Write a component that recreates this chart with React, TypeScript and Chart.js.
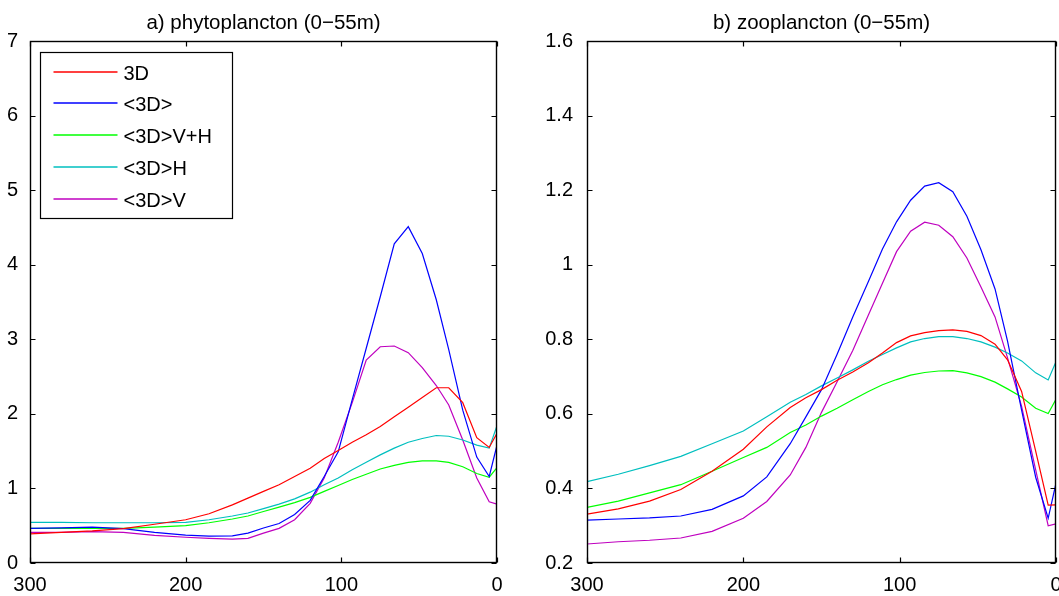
import React, { useEffect, useRef } from "react";
import { Chart, registerables } from "chart.js";

Chart.register(...registerables);

// ---------- data ----------
const DEPTH = [300, 280, 260, 240, 220, 200, 185, 170, 160, 150, 140, 130, 120, 111, 102, 93, 84, 75, 66, 57, 48, 39, 31, 22, 13, 5, 0];

const SERIES_LABELS = ["3D", "<3D>", "<3D>V+H", "<3D>H", "<3D>V"];
const SERIES_COLORS = ["#ff0000", "#0000ff", "#00ff00", "#00bfbf", "#bf00bf"];

// a) phytoplancton
const PHYTO_3D = [0.39, 0.41, 0.43, 0.46, 0.52, 0.58, 0.66, 0.78, 0.87, 0.96, 1.05, 1.16, 1.27, 1.40, 1.51, 1.62, 1.72, 1.83, 1.96, 2.09, 2.22, 2.35, 2.35, 2.15, 1.68, 1.55, 1.74];
const PHYTO_MEAN = [0.465, 0.47, 0.48, 0.46, 0.41, 0.375, 0.36, 0.365, 0.40, 0.47, 0.53, 0.65, 0.84, 1.16, 1.49, 2.19, 2.88, 3.57, 4.28, 4.51, 4.15, 3.53, 2.86, 2.05, 1.42, 1.16, 1.58];
const PHYTO_VH = [0.465, 0.465, 0.465, 0.465, 0.48, 0.50, 0.54, 0.59, 0.63, 0.69, 0.75, 0.81, 0.88, 0.96, 1.04, 1.12, 1.19, 1.26, 1.31, 1.35, 1.37, 1.37, 1.35, 1.29, 1.20, 1.15, 1.28];
const PHYTO_H = [0.546, 0.545, 0.54, 0.54, 0.54, 0.545, 0.58, 0.63, 0.67, 0.73, 0.79, 0.86, 0.95, 1.05, 1.14, 1.25, 1.35, 1.45, 1.54, 1.62, 1.67, 1.71, 1.70, 1.65, 1.58, 1.54, 1.84];
const PHYTO_V = [0.41, 0.41, 0.42, 0.41, 0.37, 0.345, 0.33, 0.32, 0.33, 0.40, 0.465, 0.58, 0.80, 1.14, 1.62, 2.15, 2.72, 2.90, 2.91, 2.82, 2.62, 2.38, 2.12, 1.65, 1.14, 0.82, 0.79];

// b) zooplancton
const ZOO_3D = [0.331, 0.345, 0.366, 0.397, 0.446, 0.505, 0.565, 0.617, 0.643, 0.665, 0.69, 0.712, 0.737, 0.763, 0.791, 0.809, 0.818, 0.823, 0.825, 0.821, 0.81, 0.787, 0.745, 0.66, 0.50, 0.355, 0.356];
const ZOO_MEAN = [0.315, 0.318, 0.321, 0.326, 0.344, 0.38, 0.431, 0.52, 0.592, 0.665, 0.76, 0.86, 0.955, 1.042, 1.115, 1.173, 1.211, 1.22, 1.196, 1.13, 1.04, 0.935, 0.795, 0.61, 0.43, 0.32, 0.414];
const ZOO_VH = [0.349, 0.366, 0.388, 0.41, 0.446, 0.483, 0.51, 0.55, 0.57, 0.594, 0.615, 0.638, 0.66, 0.678, 0.692, 0.704, 0.711, 0.715, 0.716, 0.71, 0.70, 0.685, 0.667, 0.645, 0.615, 0.601, 0.639];
const ZOO_H = [0.418, 0.438, 0.461, 0.486, 0.52, 0.554, 0.592, 0.631, 0.652, 0.675, 0.696, 0.718, 0.741, 0.759, 0.777, 0.793, 0.802, 0.807, 0.807, 0.802, 0.793, 0.779, 0.763, 0.742, 0.71, 0.691, 0.74];
const ZOO_V = [0.251, 0.257, 0.261, 0.267, 0.285, 0.32, 0.365, 0.436, 0.51, 0.604, 0.686, 0.77, 0.865, 0.95, 1.035, 1.09, 1.114, 1.106, 1.075, 1.018, 0.94, 0.86, 0.75, 0.62, 0.45, 0.30, 0.305];

const X_TICKS = [300, 200, 100, 0];
const PHYTO_Y_TICKS = [0, 1, 2, 3, 4, 5, 6, 7];
const ZOO_Y_TICKS = [0.2, 0.4, 0.6, 0.8, 1.0, 1.2, 1.4, 1.6];

const PHYTO_TITLE = "a) phytoplancton (0\u221255m)";
const ZOO_TITLE = "b) zooplancton (0\u221255m)";

// ---------- styling ----------
const FONT = '"Liberation Sans", Arial, Helvetica, sans-serif';

const framePlugin = {
  id: "matlabFrame",
  afterDatasetsDraw(chart: any) {
    const { ctx, chartArea: a, scales } = chart;
    const L = Math.round(a.left) + 0.5;
    const R = Math.round(a.right) - 0.5;
    const T = Math.round(a.top) + 0.5;
    const B = Math.round(a.bottom) - 0.5;
    const len = 5;
    ctx.save();
    ctx.strokeStyle = "#000";
    ctx.lineWidth = 1.4;
    ctx.strokeRect(L, T, R - L, B - T);
    ctx.lineWidth = 1.2;
    ctx.beginPath();
    scales.x.ticks.forEach((t: any) => {
      const px = Math.round(scales.x.getPixelForValue(t.value)) + 0.5;
      ctx.moveTo(px, B);
      ctx.lineTo(px, B - len);
      ctx.moveTo(px, T);
      ctx.lineTo(px, T + len);
    });
    scales.y.ticks.forEach((t: any) => {
      const py = Math.round(scales.y.getPixelForValue(t.value)) + 0.5;
      ctx.moveTo(L, py);
      ctx.lineTo(L + len, py);
      ctx.moveTo(R, py);
      ctx.lineTo(R - len, py);
    });
    ctx.stroke();
    ctx.restore();
  },
};

const boxLegendPlugin = {
  id: "boxLegend",
  afterDraw(chart: any) {
    const { ctx, chartArea: a } = chart;
    const x0 = Math.round(a.left + 10) + 0.5;
    const y0 = Math.round(a.top + 11) + 0.5;
    const w = 192;
    const h = 166;
    ctx.save();
    ctx.fillStyle = "#fff";
    ctx.fillRect(x0, y0, w, h);
    ctx.strokeStyle = "#000";
    ctx.lineWidth = 1.2;
    ctx.strokeRect(x0, y0, w, h);
    ctx.font = `20px ${FONT}`;
    ctx.textBaseline = "middle";
    ctx.textAlign = "left";
    chart.data.datasets.forEach((ds: any, i: number) => {
      const y = Math.round(y0 + 19 + i * 31.8);
      ctx.strokeStyle = ds.borderColor;
      ctx.lineWidth = 1.5;
      ctx.beginPath();
      ctx.moveTo(x0 + 13, y);
      ctx.lineTo(x0 + 77, y);
      ctx.stroke();
      ctx.fillStyle = "#000";
      ctx.fillText(ds.label, x0 + 83, y + 2);
    });
    ctx.restore();
  },
};

function makeConfig(
  title: string,
  series: number[][],
  yTicks: number[],
  yAxisWidth: number,
  yPad: number,
  padRight: number,
  withLegend: boolean
): any {
  return {
    type: "line",
    data: {
      datasets: series.map((vals, i) => ({
        label: SERIES_LABELS[i],
        data: DEPTH.map((d, j) => ({ x: d, y: vals[j] })),
        borderColor: SERIES_COLORS[i],
        backgroundColor: SERIES_COLORS[i],
        borderWidth: 1.2,
        pointRadius: 0,
        tension: 0,
        fill: false,
      })),
    },
    options: {
      animation: false,
      responsive: false,
      devicePixelRatio: 1,
      events: [],
      layout: { padding: { left: 0, right: padRight, top: 0, bottom: 0 } },
      plugins: {
        legend: { display: false },
        tooltip: { enabled: false },
        title: {
          display: true,
          text: title,
          color: "#000",
          fullSize: false,
          font: { family: FONT, size: 20.5, weight: "normal", lineHeight: 1.2 },
          padding: { top: 11, bottom: 5.4 },
        },
      },
      scales: {
        x: {
          type: "linear",
          min: 0,
          max: 300,
          reverse: true,
          grid: { display: false },
          border: { display: false },
          ticks: {
            color: "#000",
            font: { family: FONT, size: 20 },
            padding: 2,
            maxRotation: 0,
            autoSkip: false,
            callback: (v: number) => String(v),
          },
          afterBuildTicks: (s: any) => {
            s.ticks = X_TICKS.map((v) => ({ value: v }));
          },
          afterFit: (s: any) => {
            s.height = 33;
            s.paddingLeft = 0;
            s.paddingRight = 0;
          },
        },
        y: {
          type: "linear",
          min: yTicks[0],
          max: yTicks[yTicks.length - 1],
          grid: { display: false },
          border: { display: false },
          ticks: {
            color: "#000",
            font: { family: FONT, size: 20 },
            padding: yPad,
            autoSkip: false,
            callback: (v: number) => String(Number(Number(v).toFixed(1))),
          },
          afterBuildTicks: (s: any) => {
            s.ticks = yTicks.map((v) => ({ value: v }));
          },
          afterFit: (s: any) => {
            s.width = yAxisWidth;
            s.paddingTop = 0;
            s.paddingBottom = 0;
          },
        },
      },
    },
    plugins: withLegend ? [framePlugin, boxLegendPlugin] : [framePlugin],
  };
}

export default function App() {
  const leftRef = useRef<HTMLCanvasElement | null>(null);
  const rightRef = useRef<HTMLCanvasElement | null>(null);

  useEffect(() => {
    const charts: Chart[] = [];
    if (leftRef.current) {
      charts.push(
        new Chart(
          leftRef.current,
          makeConfig(PHYTO_TITLE, [PHYTO_3D, PHYTO_MEAN, PHYTO_VH, PHYTO_H, PHYTO_V], PHYTO_Y_TICKS, 30, 4, 33, true)
        )
      );
    }
    if (rightRef.current) {
      charts.push(
        new Chart(
          rightRef.current,
          makeConfig(ZOO_TITLE, [ZOO_3D, ZOO_MEAN, ZOO_VH, ZOO_H, ZOO_V], ZOO_Y_TICKS, 57, 6, 14, false)
        )
      );
    }
    return () => charts.forEach((c) => c.destroy());
  }, []);

  return (
    <div
      style={{
        position: "absolute",
        left: 0,
        top: 0,
        width: 1059,
        height: 596,
        overflow: "hidden",
        background: "#fff",
      }}
    >
      <canvas
        ref={leftRef}
        width={530}
        height={596}
        style={{ position: "absolute", left: 0, top: 0, width: 530, height: 596 }}
      />
      <canvas
        ref={rightRef}
        width={540}
        height={596}
        style={{ position: "absolute", left: 530, top: 0, width: 540, height: 596 }}
      />
    </div>
  );
}
